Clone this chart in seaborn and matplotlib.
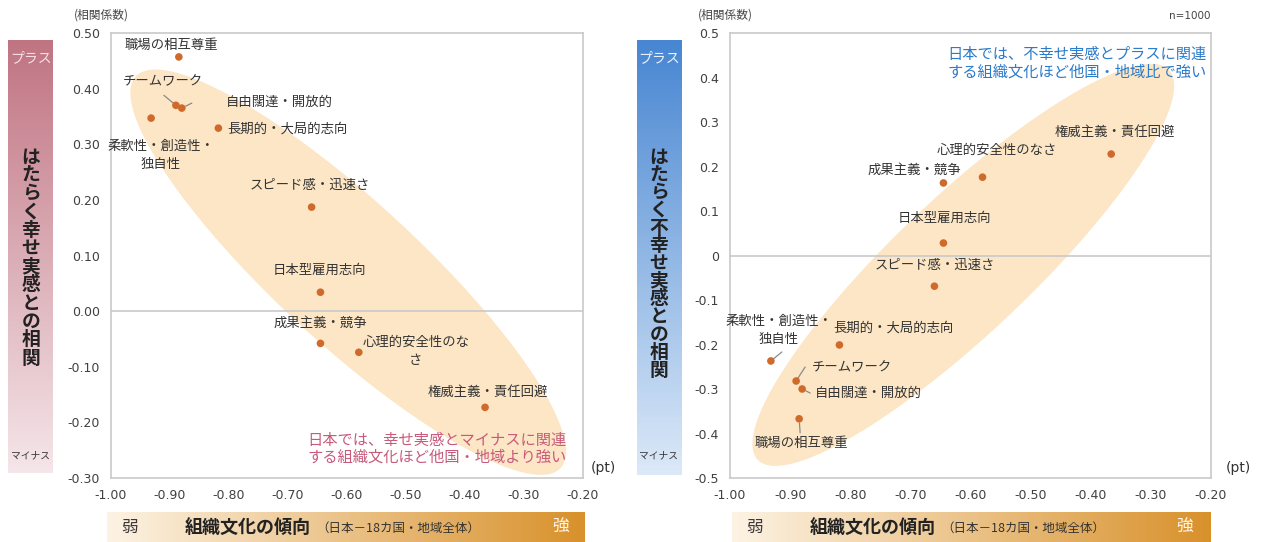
import numpy as np
import pandas as pd
import matplotlib
matplotlib.use("Agg")
import matplotlib.pyplot as plt
import seaborn as sns
from matplotlib.colors import LinearSegmentedColormap
from matplotlib.patches import Polygon

# ---------------- data ----------------
categories = ["職場の相互尊重", "チームワーク", "自由闊達・開放的", "柔軟性・創造性・独自性",
              "長期的・大局的志向", "スピード感・迅速さ", "日本型雇用志向", "成果主義・競争",
              "心理的安全性のなさ", "権威主義・責任回避"]
left_labels = ["職場の相互尊重", "チームワーク", "自由闊達・開放的", "柔軟性・創造性・\n独自性",
               "長期的・大局的志向", "スピード感・迅速さ", "日本型雇用志向", "成果主義・競争",
               "心理的安全性のな\nさ", "権威主義・責任回避"]
right_labels = ["職場の相互尊重", "チームワーク", "自由闊達・開放的", "柔軟性・創造性・\n独自性",
                "長期的・大局的志向", "スピード感・迅速さ", "日本型雇用志向", "成果主義・競争",
                "心理的安全性のなさ", "権威主義・責任回避"]
culture_tendency = [-0.885, -0.890, -0.880, -0.932, -0.818, -0.660, -0.645, -0.645, -0.580, -0.366]
happiness_corr = [0.457, 0.370, 0.365, 0.347, 0.329, 0.187, 0.034, -0.058, -0.074, -0.173]
unhappiness_corr = [-0.367, -0.282, -0.300, -0.237, -0.201, -0.069, 0.028, 0.163, 0.176, 0.228]

x_ticks = [-1.00, -0.90, -0.80, -0.70, -0.60, -0.50, -0.40, -0.30, -0.20]
x_ticklabels = ["-1.00", "-0.90", "-0.80", "-0.70", "-0.60", "-0.50", "-0.40", "-0.30", "-0.20"]
left_yticks = [0.50, 0.40, 0.30, 0.20, 0.10, 0.00, -0.10, -0.20, -0.30]
left_yticklabels = ["0.50", "0.40", "0.30", "0.20", "0.10", "0.00", "-0.10", "-0.20", "-0.30"]
right_yticks = [0.5, 0.4, 0.3, 0.2, 0.1, 0.0, -0.1, -0.2, -0.3, -0.4, -0.5]
right_yticklabels = ["0.5", "0.4", "0.3", "0.2", "0.1", "0", "-0.1", "-0.2", "-0.3", "-0.4", "-0.5"]

df = pd.DataFrame({"category": categories, "culture": culture_tendency,
                   "happy": happiness_corr, "unhappy": unhappiness_corr,
                   "left_label": left_labels, "right_label": right_labels})

# label placement (pixel offsets from dot: dx right, dy up) and alignment
left_offsets = [(-7, 12, "center"), (-13, 24, "center"), (44, 6, "left"), (10, -37, "center"),
                (9, 0, "left"), (-2, 22, "center"), (-1, 22, "center"), (0, 21, "center"),
                (57, 1, "center"), (3, 16, "center")]
right_offsets = [(2, -24, "center"), (16, 14, "left"), (13, -4, "left"), (8, 31, "center"),
                 (-6, 17, "left"), (0, 21, "center"), (1, 25, "center"), (-29, 13, "center"),
                 (14, 27, "center"), (4, 22, "center")]
# leader lines: (index, end dx, end dy, shrink at dot)
left_leaders = [(1, -12, 10, 2), (2, 10, 5, 3)]
right_leaders = [(3, 11, 9, 2), (1, 9, 14, 2), (2, 8, -4, 3), (0, 1, -14, 3)]

# ---------------- style ----------------
sns.set_theme(style="white")
plt.rcParams["font.family"] = ["Noto Sans CJK JP", "DejaVu Sans"]
plt.rcParams["axes.unicode_minus"] = False

W, H = 1261, 542
fig = plt.figure(figsize=(W / 100, H / 100), dpi=100)
PX = 0.72  # points per pixel

DOT = "#cf6a2b"
ELL = "#fce6c5"
FRAME = "#c9c9c9"
TXT = "#333333"


def fx(x):
    return x / W


def fy(y):
    return 1 - y / H


def gradient_bar(x0, y0, x1, y1, c_start, c_end, vertical):
    bax = fig.add_axes([fx(x0), fy(y1), (x1 - x0) / W, (y1 - y0) / H])
    cmap = LinearSegmentedColormap.from_list("g", [c_start, c_end])
    if vertical:
        arr = np.linspace(0, 1, 256)[:, None]  # top row = start colour
    else:
        arr = np.linspace(0, 1, 256)[None, :]
    bax.imshow(arr, aspect="auto", cmap=cmap, extent=[0, 1, 0, 1], interpolation="bilinear")
    bax.axis("off")
    return bax


def ellipse(ax, center, va, vb):
    t = np.linspace(0, 2 * np.pi, 300)
    pts = np.column_stack([center[0] + np.cos(t) * va[0] + np.sin(t) * vb[0],
                           center[1] + np.cos(t) * va[1] + np.sin(t) * vb[1]])
    ax.add_patch(Polygon(pts, closed=True, facecolor=ELL, edgecolor="none", zorder=0))


def setup_axes(ax, yticks, yticklabels, ylim):
    ax.set_xlim(-1.0, -0.2)
    ax.set_ylim(*ylim)
    ax.set_xticks(x_ticks)
    ax.set_xticklabels(x_ticklabels, fontfamily="DejaVu Sans", fontsize=9, color="#404040")
    ax.set_yticks(yticks)
    ax.set_yticklabels(yticklabels, fontfamily="DejaVu Sans", fontsize=9, color="#404040")
    ax.tick_params(length=0, pad=8)
    ax.set_xlabel("")
    ax.set_ylabel("")
    for s in ax.spines.values():
        s.set_color(FRAME)
        s.set_linewidth(1.2)
    ax.axhline(0, color=FRAME, lw=1.2, zorder=1)
    ax.grid(False)


def draw_panel(ax, ycol, labcol, offsets, leaders):
    sns.scatterplot(data=df, x="culture", y=ycol, ax=ax, color=DOT, s=30,
                    edgecolor="none", zorder=4, legend=False)
    ax.set_xlabel("")
    ax.set_ylabel("")
    for i, row in df.iterrows():
        dx, dy, ha = offsets[i]
        ax.annotate(row[labcol], xy=(row["culture"], row[ycol]), xytext=(dx * PX, dy * PX),
                    textcoords="offset points", ha=ha, va="center", fontsize=9.6,
                    color=TXT, linespacing=1.4, multialignment="center", zorder=5)
    for i, ex, ey, sh in leaders:
        ax.annotate("", xy=(df.loc[i, "culture"], df.loc[i, ycol]), xytext=(ex * PX, ey * PX),
                    textcoords="offset points",
                    arrowprops=dict(arrowstyle="-", color="#8a8a8a", lw=0.9,
                                    shrinkA=0, shrinkB=sh), zorder=3)


# ---------------- left panel ----------------
ax1 = fig.add_axes([fx(111), fy(478), 472 / W, 445 / H])
setup_axes(ax1, left_yticks, left_yticklabels, (-0.30, 0.50))
ellipse(ax1, (-0.598, 0.070), (0.360, -0.352), (-0.082, -0.094))
draw_panel(ax1, "happy", "left_label", left_offsets, left_leaders)

# ---------------- right panel ----------------
ax2 = fig.add_axes([fx(730), fy(478), 481 / W, 445 / H])
setup_axes(ax2, right_yticks, right_yticklabels, (-0.5, 0.5))
ellipse(ax2, (-0.612, -0.021), (0.342, 0.438), (0.078, -0.111))
draw_panel(ax2, "unhappy", "right_label", right_offsets, right_leaders)

# ---------------- decorations ----------------
# vertical bars
gradient_bar(8, 40, 53, 473, "#c07482", "#f5e6ea", True)
gradient_bar(637, 40, 682, 475, "#4786d2", "#dce9f8", True)
# horizontal bars
gradient_bar(107, 512, 585, 542, "#fdf3e4", "#d8912b", False)
gradient_bar(732, 512, 1211, 542, "#fdf3e4", "#d8912b", False)


def vtext(xc, yfirst, ylast, s, size):
    n = len(s)
    for k, ch in enumerate(s):
        y = yfirst + (ylast - yfirst) * k / (n - 1)
        fig.text(fx(xc), fy(y), ch, ha="center", va="center", fontsize=size,
                 fontweight="bold", color="#222222")


vtext(31, 157, 358, "はたらく幸せ実感との相関", 13.5)
vtext(659, 157, 370, "はたらく不幸せ実感との相関", 13.5)

for xc, pc in [(31, "#f7e0e5"), (659, "#eaf3ff")]:
    fig.text(fx(xc), fy(58), "プラス", ha="center", va="center", fontsize=10, color=pc)
    fig.text(fx(xc), fy(455), "マイナス", ha="center", va="center", fontsize=7, color=TXT)

for off in (0, 625):
    fig.text(fx(130 + off), fy(527), "弱", ha="center", va="center", fontsize=12, color="#3a3a3a")
    fig.text(fx(185 + off), fy(527), "組織文化の傾向", ha="left", va="center", fontsize=13,
             fontweight="bold", color="#222222")
    fig.text(fx(316 + off), fy(528), "（日本－18カ国・地域全体）", ha="left", va="center",
             fontsize=9, color="#333333")

fig.text(fx(561), fy(527), "強", ha="center", va="center", fontsize=12, color="#fff6e6")
fig.text(fx(1185), fy(527), "強", ha="center", va="center", fontsize=12, color="#fff6e6")

fig.text(fx(101), fy(15), "(相関係数)", ha="center", va="center", fontsize=8.5, color="#444444")
fig.text(fx(725), fy(15), "(相関係数)", ha="center", va="center", fontsize=8.5, color="#444444")
fig.text(fx(1210), fy(16), "n=1000", ha="right", va="center", fontsize=7.5,
         fontfamily="DejaVu Sans", color="#444444")
fig.text(fx(603), fy(468), "(pt)", ha="center", va="center", fontsize=10,
         fontfamily="DejaVu Sans", color="#333333")
fig.text(fx(1238), fy(468), "(pt)", ha="center", va="center", fontsize=10,
         fontfamily="DejaVu Sans", color="#333333")

# key messages
fig.text(fx(567), fy(440), "日本では、幸せ実感とマイナスに関連", ha="right", va="center",
         fontsize=11, color="#c85a7c")
fig.text(fx(567), fy(457), "する組織文化ほど他国・地域より強い", ha="right", va="center",
         fontsize=11, color="#c85a7c")
fig.text(fx(1207), fy(54), "日本では、不幸せ実感とプラスに関連", ha="right", va="center",
         fontsize=11, color="#2b7bcb")
fig.text(fx(1207), fy(72), "する組織文化ほど他国・地域比で強い", ha="right", va="center",
         fontsize=11, color="#2b7bcb")

fig.savefig("out.png", dpi=100, facecolor="white")
